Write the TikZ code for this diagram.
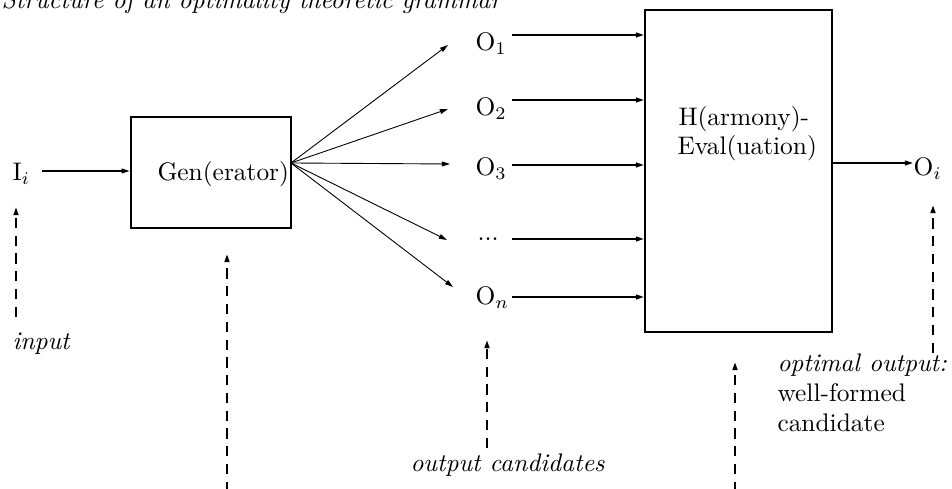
\documentclass[tikz,border=0pt]{standalone}
\usetikzlibrary{arrows.meta,fit}
\begin{document}
\begin{tikzpicture}[x=0.3937pt,y=-0.3937pt,
  lbl/.style={anchor=base west, inner sep=0pt},
  tip/.style={-{Triangle[length=3.2pt,width=1.9pt]}},
  flow/.style={tip, line width=0.6pt},
  fan/.style={tip, line width=0.35pt},
  note/.style={tip, line width=0.8pt, dash pattern=on 4pt off 3pt},
  frame/.style={draw, line width=0.8pt, inner sep=0pt}]
\useasboundingbox (0,0) rectangle (952,489);

% heading
\node[lbl, font=\itshape] (title) at (1,9) {Structure of an optimality theoretic grammar};

% input and generator
\node[lbl] (in) at (12,180.5) {I$_i$};
\node[frame, fit={(130.7,117) (291,228)}] (gen) {};
\node[lbl] (gentext) at (157,181) {Gen(erator)};
\coordinate (inend) at (42,171);
\draw[flow] (inend) -- (inend -| gen.west);

% candidate outputs
\node[lbl] (o1) at (475,51) {O$_1$};
\node[lbl] (o2) at (475,116) {O$_2$};
\node[lbl] (o3) at (475,176) {O$_3$};
\node[lbl] (od) at (477,241) {...};
\node[lbl] (on) at (475,305) {O$_n$};

% fan from the generator
\coordinate (g) at (291,163);
\coordinate (t1) at (448,45);
\coordinate (t2) at (448,109);
\coordinate (t3) at (450,164);
\coordinate (t4) at (447,240);
\coordinate (t5) at (453,287);
\foreach \t in {t1,t2,t3,t4,t5} \draw[fan] (g) -- (\t);

% evaluation box
\node[frame, fit={(645,10) (832,332)}] (eval) {};
\node[lbl] (h1) at (678,126) {H(armony)-};
\node[lbl] (h2) at (677,155) {Eval(uation)};

\coordinate (s1) at (512,35);
\coordinate (s2) at (512,100);
\coordinate (s3) at (512,165);
\coordinate (s4) at (512,239);
\coordinate (s5) at (512,297);
\foreach \s in {s1,s2,s3,s4,s5} \draw[flow] (\s) -- (\s -| eval.west);

% optimal output
\node[lbl] (oi) at (913,176) {O$_i$};
\coordinate (e) at (832,163);
\draw[flow] (e) -- (oi.west |- e);

% annotations
\node[lbl, font=\itshape] (input) at (12,350) {input};
\node[lbl, font=\itshape] (cands) at (410,472) {output candidates};
\node[lbl] (opt) at (777,372) {\textit{optimal output:}};
\node[lbl] (wf) at (777,402) {well-formed};
\node[lbl] (cd) at (777,432) {candidate};

\coordinate (a1) at (16,317);   \coordinate (b1) at (16,207);
\coordinate (a2) at (227,492);  \coordinate (b2) at (227,254);
\coordinate (a3) at (487,448);  \coordinate (b3) at (487,340);
\coordinate (a4) at (735,492);  \coordinate (b4) at (735,362);
\coordinate (a5) at (933,353);  \coordinate (b5) at (933,205);
\foreach \i in {1,...,5} \draw[note] (a\i) -- (b\i);
\end{tikzpicture}
\end{document}
